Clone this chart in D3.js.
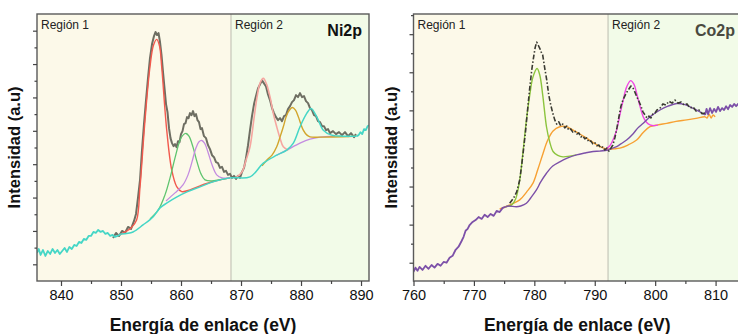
<!DOCTYPE html>
<html>
<head>
<meta charset="utf-8">
<script src="https://cdn.jsdelivr.net/npm/d3@7"></script>
<style>
    body { margin: 0; background: #ffffff; }
    svg text { font-family: "Liberation Sans", Arial, sans-serif; }
</style>
</head>
<body>
<div id="chart-area"></div>
<script>

// ---------- Ni2p (left panel) : [binding energy eV, intensity a.u.] ----------
let niTicks = [840, 850, 860, 870, 880, 890];
let niRegionSplit = 868.33;

let niRaw = [
    [848.67, 0.79], [849.17, 0.94], [849.67, 0.85], [850.17, 1.00], [850.67, 0.94], [851.17, 1.12],
    [851.67, 1.06], [852.17, 1.30], [852.5, 1.51], [852.83, 1.99], [853.17, 2.53], [853.5, 3.42],
    [853.83, 4.20], [854.17, 4.92], [854.5, 5.58], [854.83, 6.18], [855.17, 6.60], [855.5, 6.84],
    [855.75, 6.96], [856.0, 6.87], [856.25, 6.93], [856.5, 6.66], [856.75, 6.27], [857.0, 5.76],
    [857.25, 5.28], [857.5, 4.80], [857.75, 4.56], [858.0, 4.08], [858.25, 3.78], [858.5, 3.63],
    [858.75, 3.54], [859.0, 3.60], [859.25, 3.51], [859.5, 3.69], [859.75, 3.66], [860.0, 3.90],
    [860.25, 3.99], [860.5, 4.20], [860.75, 4.23], [861.0, 4.41], [861.25, 4.38], [861.5, 4.53],
    [861.75, 4.47], [862.0, 4.59], [862.25, 4.44], [862.5, 4.50], [862.75, 4.32], [863.0, 4.26],
    [863.25, 4.05], [863.5, 4.08], [863.83, 3.84], [864.17, 3.78], [864.5, 3.57], [864.83, 3.45],
    [865.17, 3.27], [865.5, 3.21], [865.83, 3.06], [866.17, 3.03], [866.5, 2.89], [866.83, 2.92],
    [867.17, 2.77], [867.5, 2.80], [867.83, 2.68], [868.17, 2.71], [868.5, 2.59], [868.83, 2.65],
    [869.17, 2.56], [869.5, 2.65], [869.83, 2.59], [870.17, 2.77], [870.5, 2.89], [870.83, 3.18],
    [871.17, 3.57], [871.5, 4.02], [871.83, 4.44], [872.17, 4.80], [872.5, 5.04], [872.83, 5.27],
    [873.17, 5.39], [873.5, 5.51], [873.83, 5.42], [874.17, 5.33], [874.5, 5.09], [874.83, 4.92],
    [875.17, 4.68], [875.5, 4.53], [875.83, 4.41], [876.17, 4.32], [876.5, 4.38], [876.83, 4.29],
    [877.17, 4.44], [877.5, 4.47], [877.83, 4.65], [878.17, 4.74], [878.5, 4.86], [878.83, 4.92],
    [879.17, 5.07], [879.5, 5.01], [879.83, 5.13], [880.17, 5.01], [880.5, 5.04], [880.83, 4.89],
    [881.17, 4.83], [881.5, 4.68], [881.83, 4.62], [882.17, 4.47], [882.5, 4.44], [882.83, 4.29],
    [883.17, 4.26], [883.5, 4.14], [883.83, 4.14], [884.17, 4.02], [884.5, 4.05], [884.83, 3.93],
    [885.33, 3.99], [885.83, 3.90], [886.33, 3.96], [886.83, 3.87], [887.33, 3.96], [887.83, 3.84],
    [888.33, 3.93], [888.83, 3.81], [889.17, 3.90]
];

// raw data outside the fit window, drawn in the teal colour
let niTailLeft = [
    [836.0, 0.34], [836.3, 0.46], [836.6, 0.28], [837.0, 0.43], [837.4, 0.25], [837.8, 0.40],
    [838.2, 0.31], [838.6, 0.46], [839.0, 0.34], [839.4, 0.43], [839.8, 0.31], [840.2, 0.40],
    [840.6, 0.49], [841.0, 0.37], [841.4, 0.52], [841.8, 0.46], [842.2, 0.58], [842.6, 0.55],
    [843.0, 0.67], [843.4, 0.64], [843.8, 0.76], [844.2, 0.73], [844.6, 0.85], [845.0, 0.85],
    [845.4, 0.97], [845.8, 0.94], [846.2, 1.03], [846.6, 0.97], [847.0, 1.00], [847.4, 0.91],
    [847.8, 0.94], [848.2, 0.85], [848.6, 0.88], [849.0, 0.82], [849.4, 0.85], [850.0, 0.91]
];
let niTailRight = [
    [889.28, 3.84], [889.6, 3.87], [889.9, 3.96], [890.2, 3.90], [890.5, 4.05], [890.8, 4.02],
    [891.1, 4.14], [891.33, 4.17]
];

// fitted components (background + peak)
let niTeal = [
    [850.0, 0.91], [852.0, 0.97], [853.67, 1.18], [855.33, 1.42], [856.5, 1.69], [857.67, 1.84],
    [859.33, 2.02], [861.0, 2.17], [863.17, 2.32], [865.33, 2.47], [868.17, 2.59], [871.5, 2.62],
    [873.72, 3.03], [875.95, 3.27], [877.62, 3.42], [878.72, 3.63], [879.83, 4.12], [880.95, 4.52],
    [881.67, 4.67], [882.62, 4.42], [883.72, 4.02], [885.12, 3.87], [887.05, 3.84], [889.28, 3.84]
];
let niRed = [
    [849.33, 0.85], [850.67, 0.97], [851.67, 1.09], [852.6, 1.33], [853.17, 2.32], [854.0, 4.32],
    [854.83, 5.92], [855.42, 6.57], [855.95, 6.74], [856.42, 6.54], [856.78, 5.92], [857.62, 4.02],
    [858.45, 2.83], [859.28, 2.33], [860.12, 2.18], [861.5, 2.23], [863.17, 2.35], [865.33, 2.48],
    [868.17, 2.59]
];
let niGreen = [
    [854.83, 1.36], [856.22, 1.63], [857.33, 2.08], [858.17, 2.59], [859.0, 3.19], [859.83, 3.72],
    [860.33, 3.87], [860.83, 3.92], [861.33, 3.84], [862.0, 3.51], [862.67, 3.07], [863.33, 2.71],
    [864.0, 2.53], [865.17, 2.50], [866.5, 2.54], [868.17, 2.59]
];
let niViolet = [
    [857.5, 1.90], [859.0, 2.14], [860.33, 2.38], [861.17, 2.68], [861.83, 3.07], [862.5, 3.49],
    [863.0, 3.67], [863.45, 3.71], [863.92, 3.63], [864.5, 3.36], [865.17, 2.98], [865.95, 2.68],
    [866.83, 2.59], [868.17, 2.59]
];
let niVioletBg = [
    [875.95, 3.27], [877.62, 3.42], [879.83, 3.63], [881.5, 3.75], [883.17, 3.81], [885.67, 3.84]
];
let niPink = [
    [869.28, 2.62], [870.17, 2.77], [870.83, 3.12], [871.5, 3.52], [872.17, 4.38], [872.67, 5.01],
    [873.17, 5.43], [873.72, 5.57], [874.25, 5.40], [874.83, 5.02], [875.33, 4.56], [875.95, 4.12],
    [876.5, 3.78], [877.05, 3.52], [877.88, 3.42]
];
let niGold = [
    [873.5, 2.95], [874.28, 3.12], [875.17, 3.27], [875.95, 3.52], [876.5, 3.81], [877.05, 4.12],
    [877.5, 4.41], [877.88, 4.57], [878.55, 4.70], [879.08, 4.62], [879.55, 4.42], [880.38, 4.02],
    [881.0, 3.87], [881.5, 3.82], [883.17, 3.81], [887.0, 3.82], [889.17, 3.84]
];

// ---------- Co2p (right panel) ----------
let coTicks = [760, 770, 780, 790, 800, 810];
let coRegionSplit = 792.2;

let coRaw = [
    [775.92, 1.56], [776.58, 1.70], [777.08, 1.86], [777.58, 2.17], [777.91, 2.57], [778.24, 3.01],
    [778.57, 3.49], [778.91, 4.06], [779.24, 4.59], [779.57, 5.06], [779.9, 5.42], [780.15, 5.66],
    [780.4, 5.79], [780.65, 5.71], [780.9, 5.63], [781.14, 5.53], [781.39, 5.45], [781.72, 5.11],
    [782.05, 4.80], [782.39, 4.40], [782.72, 4.14], [783.05, 3.93], [783.38, 3.75], [783.71, 3.64],
    [784.05, 3.70], [784.38, 3.59], [784.71, 3.64], [785.04, 3.54], [785.37, 3.59], [785.7, 3.48],
    [786.03, 3.51], [786.37, 3.43], [786.7, 3.46], [787.03, 3.38], [787.36, 3.41], [787.69, 3.30],
    [788.03, 3.33], [788.36, 3.25], [788.69, 3.28], [789.02, 3.17], [789.35, 3.20], [789.68, 3.12],
    [790.02, 3.15], [790.35, 3.07], [790.68, 3.09], [791.01, 3.01], [791.34, 3.04], [791.67, 2.96],
    [792.01, 3.01], [792.34, 2.93], [792.67, 3.01], [793.0, 3.09], [793.33, 3.28], [793.67, 3.54],
    [794.0, 3.83], [794.33, 4.11], [794.66, 4.27], [794.99, 4.38], [795.32, 4.48], [795.66, 4.56],
    [795.99, 4.64], [796.32, 4.59], [796.65, 4.48], [796.98, 4.35], [797.31, 4.24], [797.65, 4.11],
    [797.98, 3.96], [798.31, 3.88], [798.64, 3.80], [798.97, 3.85], [799.3, 3.80], [799.64, 3.91],
    [799.97, 3.93], [800.3, 4.01], [800.8, 4.06], [801.29, 4.17], [801.79, 4.14], [802.29, 4.24],
    [802.79, 4.19], [803.28, 4.27], [803.78, 4.19], [804.28, 4.22], [804.78, 4.14], [805.27, 4.17],
    [805.77, 4.06], [806.27, 4.09], [806.77, 3.98], [807.26, 4.01], [807.76, 3.91], [808.26, 3.93]
];
let coPurple = [
    [760.0, -0.24], [760.33, -0.13], [760.66, -0.21], [761.0, -0.11], [761.49, -0.19], [761.99, -0.08],
    [762.49, -0.16], [762.99, -0.06], [763.48, -0.13], [763.98, -0.03], [764.48, -0.08], [764.98, 0.02],
    [765.47, 0.00], [765.97, 0.13], [766.47, 0.18], [766.97, 0.34], [767.46, 0.42], [767.96, 0.57],
    [768.29, 0.68], [768.62, 0.84], [768.96, 0.89], [769.29, 0.99], [769.78, 1.07], [770.28, 1.12],
    [770.78, 1.20], [771.28, 1.15], [771.77, 1.26], [772.27, 1.20], [772.77, 1.28], [773.27, 1.23],
    [773.76, 1.36], [774.26, 1.33], [774.76, 1.44], [775.26, 1.47]
];
let coPurpleFit = [
    [775.26, 1.47], [775.75, 1.49], [777.03, 1.47], [777.74, 1.49], [778.69, 1.56], [779.4, 1.70],
    [780.35, 1.91], [781.06, 2.12], [782.01, 2.35], [783.05, 2.54], [784.21, 2.65], [785.54, 2.75],
    [786.98, 2.83], [788.36, 2.88], [789.73, 2.92], [790.85, 2.93], [792.22, 2.96], [792.84, 3.00],
    [793.62, 3.05], [794.33, 3.12], [795.27, 3.22], [796.32, 3.38], [797.15, 3.54], [798.03, 3.66],
    [799.14, 3.83], [800.8, 4.01], [802.12, 4.11], [803.57, 4.18], [804.94, 4.15], [806.32, 4.05],
    [807.43, 3.96], [808.26, 3.88]
];
let coPurpleTail = [
    [808.26, 3.88], [808.51, 4.04], [808.76, 3.90], [809.09, 4.06], [809.42, 3.93], [809.75, 4.04],
    [810.08, 3.96], [810.41, 4.09], [810.75, 3.98], [811.08, 4.06], [811.41, 4.01], [811.74, 4.11],
    [812.07, 4.03], [812.4, 4.14], [812.74, 4.09], [813.07, 4.17], [813.4, 4.11], [813.73, 4.17],
    [814.06, 4.19], [814.4, 4.15], [814.8, 4.21], [815.2, 4.18]
];
let coOrange = [
    [774.26, 1.41], [775.26, 1.47], [776.25, 1.54], [777.58, 1.65], [778.74, 1.86], [779.78, 2.09],
    [780.56, 2.44], [781.44, 2.87], [782.22, 3.22], [783.1, 3.46], [784.21, 3.57], [785.21, 3.58],
    [786.42, 3.48], [787.53, 3.38], [788.64, 3.27], [789.69, 3.16], [790.85, 3.05], [792.22, 2.98],
    [793.17, 2.99], [794.16, 3.01], [795.49, 3.09], [796.93, 3.22], [797.98, 3.41], [799.14, 3.57],
    [800.46, 3.62], [801.91, 3.66], [803.45, 3.71], [805.22, 3.75], [806.77, 3.79], [808.26, 3.83],
    [808.59, 3.80], [808.92, 3.90], [809.26, 3.80], [809.59, 3.88], [809.92, 3.83]
];
let coGreen = [
    [775.26, 1.47], [776.25, 1.52], [776.92, 1.68], [777.58, 2.17], [778.16, 2.96], [778.69, 3.75],
    [779.24, 4.40], [779.78, 4.88], [780.45, 5.10], [780.9, 4.93], [781.39, 4.40], [782.01, 3.57],
    [782.55, 3.17], [783.1, 2.92], [783.88, 2.82], [784.76, 2.78], [785.87, 2.80], [786.98, 2.83]
];
let coMagenta = [
    [791.67, 2.96], [792.5, 3.07], [793.17, 3.28], [793.62, 3.48], [794.16, 3.88], [794.71, 4.27],
    [795.27, 4.61], [795.94, 4.78], [796.48, 4.69], [796.93, 4.45], [797.48, 4.11], [798.03, 3.83],
    [798.56, 3.69], [799.14, 3.62], [799.97, 3.60], [800.46, 3.62]
];


class SpectrumPanel {

    // constructor method
    constructor(svg, config) {
        this.svg = svg;
        this.config = config;
        this.initVis();
    }

    initVis() {
        let vis = this;
        let c = vis.config;

        vis.g = vis.svg.append("g").attr("class", "panel");

        // scales
        vis.x = d3.scaleLinear().domain(c.xDomain).range([c.left, c.right]);
        vis.y = d3.scaleLinear().domain(c.yDomain).range([c.bottom, c.top]);

        // clip to the frame
        vis.g.append("clipPath").attr("id", c.id + "-clip")
            .append("rect")
            .attr("x", c.left).attr("y", c.top)
            .attr("width", c.right - c.left).attr("height", c.bottom - c.top);

        // region backgrounds
        let split = vis.x(c.split);
        vis.g.append("rect")
            .attr("x", c.left).attr("y", c.top)
            .attr("width", split - c.left).attr("height", c.bottom - c.top)
            .attr("fill", "#fcf9e9");
        vis.g.append("rect")
            .attr("x", split).attr("y", c.top)
            .attr("width", c.right - split).attr("height", c.bottom - c.top)
            .attr("fill", "#f2fbe8");
        vis.g.append("line")
            .attr("x1", split).attr("x2", split)
            .attr("y1", c.top).attr("y2", c.bottom)
            .attr("stroke", "#bcbcb0").attr("stroke-width", 1);

        vis.g.append("text").attr("x", c.left + 4).attr("y", c.top + 15)
            .attr("font-size", 12).attr("fill", "#222").text("Región 1");
        vis.g.append("text").attr("x", split + 4).attr("y", c.top + 15)
            .attr("font-size", 12).attr("fill", "#222").text("Región 2");

        vis.plot = vis.g.append("g").attr("clip-path", "url(#" + c.id + "-clip)");

        vis.line = d3.line()
            .x(d => vis.x(d[0]))
            .y(d => vis.y(d[1]));
        vis.smooth = d3.line()
            .curve(d3.curveCatmullRom.alpha(0.5))
            .x(d => vis.x(d[0]))
            .y(d => vis.y(d[1]));

        vis.updateVis();
    }

    updateVis() {
        let vis = this;
        let c = vis.config;

        // series, in drawing order
        c.series.forEach(s => {
            vis.plot.append("path")
                .datum(s.data)
                .attr("fill", "none")
                .attr("stroke", s.color)
                .attr("stroke-width", s.width)
                .attr("stroke-linejoin", "round")
                .attr("stroke-dasharray", s.dash || null)
                .attr("d", s.noisy ? vis.line : vis.smooth);
        });

        // panel title
        vis.g.append("text")
            .attr("x", c.titleX).attr("y", c.top + 22)
            .attr("text-anchor", c.titleAnchor)
            .attr("font-size", c.titleSize).attr("font-weight", "bold")
            .attr("fill", c.titleColor)
            .text(c.title);

        // frame
        vis.g.append("rect")
            .attr("x", c.left).attr("y", c.top)
            .attr("width", c.right - c.left).attr("height", c.bottom - c.top)
            .attr("fill", "none").attr("stroke", "#5a5a5a").attr("stroke-width", 1.4);

        // x axis (major + minor)
        let minorX = c.ticks.map(t => t + 5).filter(t => t < c.xDomain[1]);
        vis.g.append("g")
            .attr("transform", "translate(0," + c.bottom + ")")
            .call(d3.axisBottom(vis.x).tickValues(minorX).tickSize(3).tickFormat(""))
            .call(g => g.select(".domain").remove());
        vis.g.append("g")
            .attr("class", "x-axis")
            .attr("transform", "translate(0," + c.bottom + ")")
            .call(d3.axisBottom(vis.x).tickValues(c.ticks).tickSize(5).tickPadding(4).tickFormat(d3.format("d")))
            .call(g => g.select(".domain").remove())
            .selectAll("text")
            .attr("font-size", 14.5).attr("fill", "#111");

        // y axis: unlabelled ticks
        let majorY = d3.range(Math.ceil(c.yDomain[0]), Math.floor(c.yDomain[1]) + 1);
        let minorY = majorY.map(t => t + 0.5).filter(t => t < c.yDomain[1]);
        vis.g.append("g")
            .attr("transform", "translate(" + c.left + ",0)")
            .call(d3.axisLeft(vis.y).tickValues(majorY).tickSize(4).tickFormat(""))
            .call(g => g.select(".domain").remove());
        vis.g.append("g")
            .attr("transform", "translate(" + c.left + ",0)")
            .call(d3.axisLeft(vis.y).tickValues(minorY).tickSize(2.5).tickFormat(""))
            .call(g => g.select(".domain").remove());
        vis.g.selectAll(".tick line").attr("stroke", "#444").attr("stroke-width", 1.2);

        // axis titles
        vis.g.append("text")
            .attr("x", (c.left + c.right) / 2 + c.xTitleShift).attr("y", 331)
            .attr("text-anchor", "middle")
            .attr("font-size", 17.5).attr("font-weight", "bold").attr("fill", "#111")
            .text("Energía de enlace (eV)");
        vis.g.append("text")
            .attr("transform", "translate(" + (c.left - 17) + "," + ((c.top + c.bottom) / 2) + ") rotate(-90)")
            .attr("text-anchor", "middle")
            .attr("font-size", 16.5).attr("font-weight", "bold").attr("fill", "#111")
            .text("Intensidad (a.u)");
    }
}


let svg = d3.select("#chart-area").append("svg")
    .attr("width", 738)
    .attr("height", 334);

new SpectrumPanel(svg, {
    id: "ni", left: 37, right: 369, top: 14, bottom: 281,
    xDomain: [836, 891.33], yDomain: [-0.5, 7.5],
    split: niRegionSplit, ticks: niTicks, xTitleShift: 0,
    title: "Ni2p", titleColor: "#111", titleAnchor: "end", titleX: 362, titleSize: 16,
    series: [
        {data: niRaw, color: "#6e6e62", width: 2, noisy: true},
        {data: niRed, color: "#f25a4e", width: 1.4},
        {data: niGreen, color: "#5ec46e", width: 1.3},
        {data: niViolet, color: "#c48ce0", width: 1.3},
        {data: niVioletBg, color: "#c48ce0", width: 1.3},
        {data: niPink, color: "#f6a6a0", width: 1.6},
        {data: niGold, color: "#d2a52c", width: 1.4},
        {data: niTailLeft, color: "#45d6c6", width: 1.8, noisy: true},
        {data: niTailRight, color: "#45d6c6", width: 1.8, noisy: true},
        {data: niTeal, color: "#45d6c6", width: 1.5}
    ]
});

new SpectrumPanel(svg, {
    id: "co", left: 413.5, right: 747, top: 14, bottom: 281,
    xDomain: [760, 815.2], yDomain: [-0.48, 6.53],
    split: coRegionSplit, ticks: coTicks, xTitleShift: -3,
    title: "Co2p", titleColor: "#4a4a40", titleAnchor: "end", titleX: 735, titleSize: 16,
    series: [
        {data: coOrange, color: "#f7a133", width: 1.4},
        {data: coGreen, color: "#8cc43e", width: 1.4},
        {data: coMagenta, color: "#f048e4", width: 1.4},
        {data: coPurple, color: "#7c50a8", width: 1.8, noisy: true},
        {data: coPurpleFit, color: "#7c50a8", width: 1.4},
        {data: coPurpleTail, color: "#7c50a8", width: 1.8, noisy: true},
        {data: coRaw, color: "#3a3a32", width: 1.6, noisy: true, dash: "5,2,1.5,2"}
    ]
});

</script>
</body>
</html>
